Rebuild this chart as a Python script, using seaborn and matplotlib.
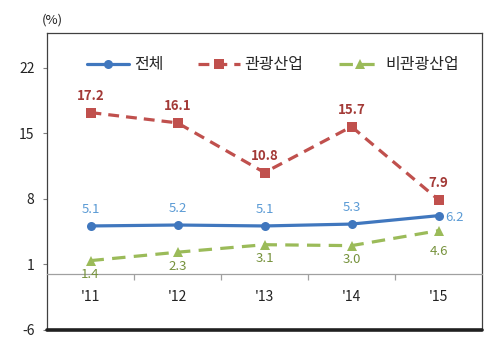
import matplotlib
matplotlib.use("Agg")
import matplotlib.pyplot as plt
import seaborn as sns
import pandas as pd
from matplotlib.ticker import FixedLocator

years = ["'11", "'12", "'13", "'14", "'15"]
total = [5.1, 5.2, 5.1, 5.3, 6.2]
tourism = [17.2, 16.1, 10.8, 15.7, 7.9]
non_tourism = [1.4, 2.3, 3.1, 3.0, 4.6]
series_names = ["전체", "관광산업", "비관광산업"]
y_ticks = [-6, 1, 8, 15, 22]

sns.set_theme(style="white")
plt.rcParams["font.family"] = ["Noto Sans CJK KR", "DejaVu Sans"]
plt.rcParams["axes.unicode_minus"] = False

rows = []
for name, vals in zip(series_names, [total, tourism, non_tourism]):
    for i, v in enumerate(vals):
        rows.append({"pos": i, "value": v, "series": name})
df = pd.DataFrame(rows)

line_colors = {"전체": "#4077BE", "관광산업": "#C0504D", "비관광산업": "#9BBB59"}
label_colors = {"전체": "#5B9BD5", "관광산업": "#A33A37", "비관광산업": "#76923C"}

fig = plt.figure(figsize=(5.0, 3.43), dpi=100)
ax = fig.add_axes([0.094, 0.038, 0.87, 0.866])

sns.lineplot(
    data=df, x="pos", y="value", hue="series", style="series",
    hue_order=series_names, style_order=series_names,
    palette=line_colors,
    markers={"전체": "o", "관광산업": "s", "비관광산업": "^"},
    dashes={"전체": "", "관광산업": (3.4, 2.2), "비관광산업": (4.2, 2.6)},
    linewidth=2.3, markersize=6.5, markeredgewidth=0, ax=ax,
)

ax.set_xlim(-0.5, 4.5)
ax.set_ylim(-6, 25.7)
ax.set_xlabel("")
ax.set_ylabel("")

# value labels
offsets = {"전체": 12, "관광산업": 12, "비관광산업": -10}
for name, vals in zip(series_names, [total, tourism, non_tourism]):
    for i, v in enumerate(vals):
        dx, dy, ha = 0, offsets[name], "center"
        if name == "전체" and i == 4:
            dx, dy, ha = 5, -1, "left"
        if name == "비관광산업" and i == 4:
            dy = -15
        ax.annotate(f"{v:.1f}", (i, v), xytext=(dx, dy), textcoords="offset points",
                    ha=ha, va="center", fontsize=9.5, color=label_colors[name],
                    fontweight="bold" if name == "관광산업" else "normal")

# axes frame and category axis crossing at zero
for s in ["left", "top", "right"]:
    ax.spines[s].set_color("#404040")
    ax.spines[s].set_linewidth(0.9)
ax.spines["bottom"].set_position(("data", 0))
ax.spines["bottom"].set_color("#A0A0A0")
ax.spines["bottom"].set_linewidth(0.9)
ax.axhline(-6, color="#202020", linewidth=2.6, clip_on=False, zorder=5)

ax.set_xticks(range(len(years)), years)
ax.xaxis.set_minor_locator(FixedLocator([0.5, 1.5, 2.5, 3.5]))
ax.tick_params(axis="x", which="major", length=0, pad=12, labelsize=10, colors="#222222")
ax.tick_params(axis="x", which="minor", bottom=True, length=4, width=0.9, color="#A0A0A0", direction="out")
ax.set_yticks(y_ticks)
ax.tick_params(axis="y", left=True, length=3, width=0.8, color="#808080", labelsize=10, colors="#222222", pad=6)

ax.text(-0.012, 1.045, "(%)", transform=ax.transAxes, fontsize=9.5, color="#222222", ha="left", va="center")

handles, labels = ax.get_legend_handles_labels()
ax.legend(handles, labels, loc="upper center", bbox_to_anchor=(0.52, 0.97), ncol=3,
          frameon=False, fontsize=11.5, handlelength=2.6, columnspacing=2.2, handletextpad=0.3)

fig.savefig("out.png", dpi=100)
